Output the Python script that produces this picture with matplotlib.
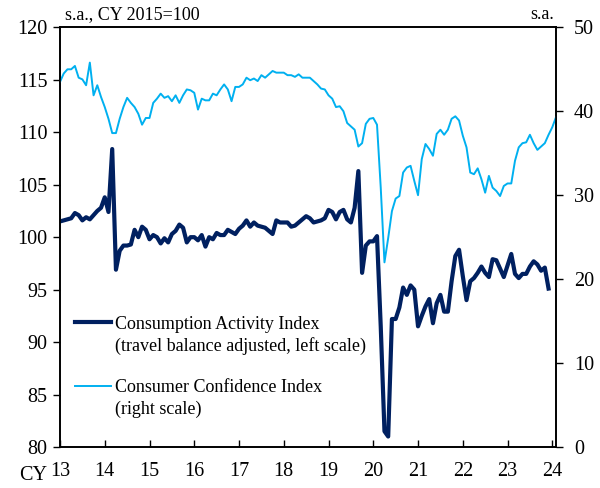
import numpy as np
import matplotlib
matplotlib.use("Agg")
import matplotlib.pyplot as plt
from matplotlib.lines import Line2D

plt.rcParams["font.family"] = ["Liberation Serif", "DejaVu Serif"]

# ---------------------------------------------------------
# Data (monthly, Jan 2013 onward)
# ---------------------------------------------------------
# Consumption Activity Index (travel balance adjusted), CY2015=100, Jan 2013 - Dec 2023
consumption = [
    101.5, 101.6, 101.7, 101.8, 102.3, 102.1, 101.6, 101.9, 101.7, 102.1, 102.5, 102.8,
    103.8, 102.4, 108.4, 96.9, 98.7, 99.2, 99.2, 99.3, 100.7, 100.0, 101.0, 100.7,
    99.8, 100.2, 100.0, 99.4, 99.9, 99.5, 100.3, 100.6, 101.2, 100.9, 99.5, 100.0,
    100.0, 99.7, 100.2, 99.1, 100.0, 99.8, 100.4, 100.2, 100.2, 100.7, 100.5, 100.3,
    100.8, 101.1, 101.6, 101.0, 101.4, 101.1, 101.0, 100.9, 100.6, 100.3, 101.6, 101.4,
    101.4, 101.4, 101.0, 101.1, 101.4, 101.7, 102.0, 101.8, 101.4, 101.5, 101.6, 101.8,
    102.6, 102.4, 101.7, 102.4, 102.6, 101.7, 101.4, 102.8, 106.3, 96.6, 99.2, 99.6,
    99.6, 100.1, 91.5, 81.5, 81.0, 92.2, 92.2, 93.3, 95.2, 94.5, 95.4, 95.0,
    91.5, 92.5, 93.4, 94.1, 91.8, 93.7, 94.5, 92.9, 92.9, 95.8, 98.2, 98.8,
    96.3, 94.0, 95.8, 96.1, 96.6, 97.2, 96.6, 96.2, 97.9, 97.8, 97.0, 96.2,
    97.3, 98.4, 96.5, 96.1, 96.5, 96.5, 97.2, 97.7, 97.4, 96.8, 97.1, 95.1,
]

# Consumer Confidence Index, Jan 2013 - Feb 2024
confidence = [
    43.5, 44.5, 45.0, 45.0, 45.4, 44.0, 43.8, 43.1, 45.8, 41.9, 43.1, 41.7,
    40.5, 39.1, 37.4, 37.4, 39.1, 40.5, 41.6, 41.0, 40.5, 39.7, 38.4, 39.2,
    39.2, 41.0, 41.5, 42.1, 41.6, 41.8, 41.2, 41.9, 41.0, 41.9, 42.6, 42.5,
    42.2, 40.2, 41.5, 41.3, 41.3, 42.1, 41.9, 42.6, 43.2, 42.6, 41.2, 42.9,
    42.9, 43.2, 44.0, 43.7, 43.9, 43.6, 44.3, 44.0, 44.4, 44.8, 44.6, 44.6,
    44.6, 44.3, 44.3, 44.1, 44.4, 44.0, 44.0, 44.0, 43.6, 43.2, 42.7, 42.6,
    41.9, 41.5, 40.5, 40.6, 40.0, 38.6, 38.2, 37.8, 35.8, 36.2, 38.5, 39.1,
    39.2, 38.4, 30.9, 22.0, 24.9, 28.1, 29.6, 29.9, 32.7, 33.3, 33.5, 31.7,
    30.0, 34.3, 36.1, 35.5, 34.7, 37.3, 37.8, 37.2, 37.8, 39.1, 39.4, 38.9,
    37.1, 35.7, 32.7, 32.5, 33.2, 31.9, 30.3, 32.3, 30.9, 30.5, 29.9, 31.1,
    31.4, 31.4, 34.1, 35.7, 36.2, 36.3, 37.2, 36.2, 35.4, 35.8, 36.2, 37.2,
    38.1, 39.3,
]

year_labels = ["13", "14", "15", "16", "17", "18", "19", "20", "21", "22", "23", "24"]

DARK = "#002060"
LIGHT = "#00B0F0"

# ---------------------------------------------------------
# Figure
# ---------------------------------------------------------
fig = plt.figure(figsize=(6.0, 4.88), dpi=100)
ax = fig.add_axes([0.1, 0.084, 0.8267, 0.86])
ax2 = ax.twinx()

x_c = np.arange(len(consumption))
x_f = np.arange(len(confidence))

ax2.plot(x_f, confidence, color=LIGHT, linewidth=1.4, zorder=2)
ax.plot(x_c, consumption, color=DARK, linewidth=3.0, zorder=3)

ax.set_xlim(0, 133)
ax.set_ylim(80, 120)
ax2.set_ylim(0, 50)

ax.set_xticks(np.arange(0, 12 * len(year_labels), 12))
ax.set_xticklabels(year_labels)
ax.set_yticks(np.arange(80, 121, 5))
ax2.set_yticks(np.arange(0, 51, 10))

for a in (ax, ax2):
    for s in a.spines.values():
        s.set_linewidth(1.2)
        s.set_color("black")

ax.tick_params(axis="x", direction="in", length=5, width=1.0, labelsize=14.5, pad=11)
ax.tick_params(axis="y", direction="out", length=5, width=1.0, labelsize=14.5, pad=4)
ax2.tick_params(axis="y", direction="out", length=5, width=1.0, labelsize=14.5, pad=8)

ax.text(-0.025, -0.045, "CY", transform=ax.transAxes, ha="right", va="top", fontsize=14.5)
ax.text(0.01, 1.01, "s.a., CY 2015=100", transform=ax.transAxes, ha="left", va="bottom", fontsize=13)
ax2.text(0.995, 1.01, "s.a.", transform=ax.transAxes, ha="right", va="bottom", fontsize=13)

# legend: handle sits on the first line of each entry
blank = Line2D([], [], color="none")
handles = [
    Line2D([], [], color=DARK, linewidth=3.0),
    blank,
    blank,
    Line2D([], [], color=LIGHT, linewidth=1.4),
    blank,
]
labels = [
    "Consumption Activity Index",
    "(travel balance adjusted, left scale)",
    "",
    "Consumer Confidence Index",
    "(right scale)",
]
ax2.legend(handles, labels, loc="upper left", bbox_to_anchor=(0.02, 0.326),
           frameon=False, fontsize=13, handlelength=2.0, handletextpad=0.2,
           labelspacing=0.22, borderaxespad=0.0, borderpad=0.3)

plt.savefig("out.png", dpi=100)
